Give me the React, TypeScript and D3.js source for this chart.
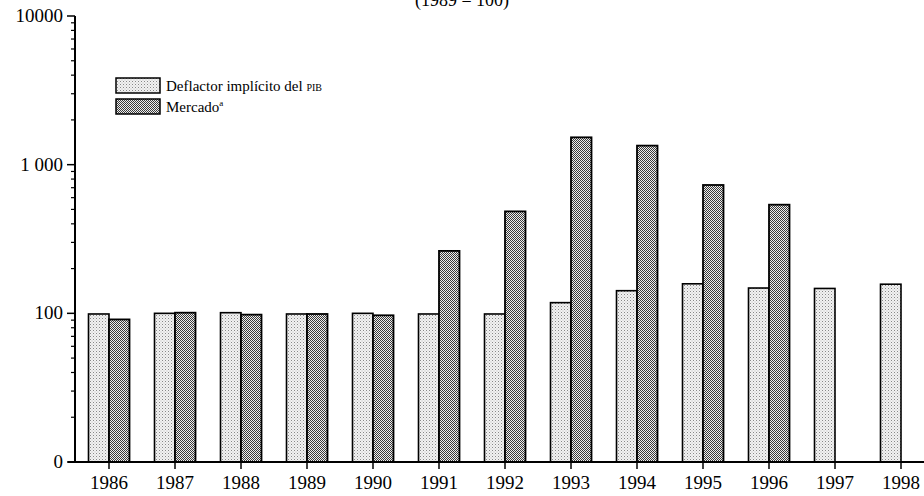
import React from "react";
import * as d3 from "d3";

const years = ["1986","1987","1988","1989","1990","1991","1992","1993","1994","1995","1996","1997","1998"];
const deflator = [99, 100, 101, 99, 100, 99, 99, 118, 142, 158, 148, 147, 157];
const market: (number | null)[] = [91, 101, 98, 99, 97, 263, 485, 1527, 1343, 730, 538, null, null];
const yTicks = [10, 100, 1000, 10000];
const yTickLabels = ["0", "100", "1 000", "10000"];
const titleText = "(1989 = 100)";
const legendLabels = ["Deflactor implícito del ", "Mercado"];

const W = 924, H = 496;
const FONT = "'Liberation Serif', 'DejaVu Serif', serif";

export default function App() {
  const y = d3.scaleLog().domain([10, 10000]).range([462, 16]);
  const x = d3.scalePoint<string>().domain(years).range([109, 901]);
  const bw = 20.5;
  const axisX = 75;
  const minor: number[] = [];
  for (let dec = 10; dec < 10000; dec *= 10) {
    for (let k = 2; k <= 9; k++) minor.push(dec * k);
  }
  return (
    <svg width={W} height={H} style={{ position: "absolute", left: 0, top: 0, background: "#fff" }}>
      <defs>
        <pattern id="light" width="3" height="3" patternUnits="userSpaceOnUse">
          <rect width="3" height="3" fill="#f2f2f2" />
          <rect x="0" y="0" width="1" height="1" fill="#888" />
          <rect x="1.5" y="1.5" width="1" height="1" fill="#bbb" />
        </pattern>
        <pattern id="dark" width="2" height="2" patternUnits="userSpaceOnUse">
          <rect width="2" height="2" fill="#eeeeee" />
          <rect x="0" y="0" width="1" height="1" fill="#3a3a3a" />
          <rect x="1" y="1" width="1" height="1" fill="#3a3a3a" />
        </pattern>
      </defs>
      <text x={462} y={6} textAnchor="middle" fontFamily={FONT} fontSize={18} fill="#000">{titleText}</text>

      {/* bars */}
      {years.map((yr, i) => {
        const cx = x(yr)!;
        const d = deflator[i];
        const m = market[i];
        return (
          <g key={yr}>
            <rect x={cx - bw} y={y(d)} width={bw} height={462 - y(d)} fill="url(#light)" stroke="#000" strokeWidth={1.6} />
            {m != null && (
              <rect x={cx} y={y(m)} width={bw} height={462 - y(m)} fill="url(#dark)" stroke="#000" strokeWidth={1.8} />
            )}
          </g>
        );
      })}

      {/* y axis */}
      <line x1={axisX} x2={axisX} y1={y(10000)} y2={y(10)} stroke="#000" strokeWidth={2} />
      {yTicks.map((t, i) => (
        <g key={t}>
          <line x1={axisX - 8} x2={axisX} y1={y(t)} y2={y(t)} stroke="#000" strokeWidth={1.5} />
          <text x={63} y={y(t) + 6} textAnchor="end" fontFamily={FONT} fontSize={19} fill="#000">{yTickLabels[i]}</text>
        </g>
      ))}
      {minor.map((t) => (
        <line key={t} x1={axisX - 4} x2={axisX} y1={y(t)} y2={y(t)} stroke="#000" strokeWidth={1.2} />
      ))}

      {/* x axis */}
      <line x1={68} x2={W} y1={462} y2={462} stroke="#000" strokeWidth={2} />
      {years.map((yr) => (
        <g key={yr}>
          <line x1={x(yr)!} x2={x(yr)!} y1={462} y2={469} stroke="#000" strokeWidth={1.5} />
          <text x={x(yr)!} y={489} textAnchor="middle" fontFamily={FONT} fontSize={19} fill="#000">{yr}</text>
        </g>
      ))}

      {/* legend */}
      <rect x={116} y={78} width={44} height={15} fill="url(#light)" stroke="#000" strokeWidth={1.5} />
      <text x={166} y={91} fontFamily={FONT} fontSize={15} fill="#000">
        {legendLabels[0]}<tspan fontSize={10}>PIB</tspan>
      </text>
      <rect x={116} y={99} width={44} height={15} fill="url(#dark)" stroke="#000" strokeWidth={1.5} />
      <text x={166} y={112} fontFamily={FONT} fontSize={15} fill="#000">
        {legendLabels[1]}<tspan fontSize={9} dy={-6}>a</tspan>
      </text>
    </svg>
  );
}
